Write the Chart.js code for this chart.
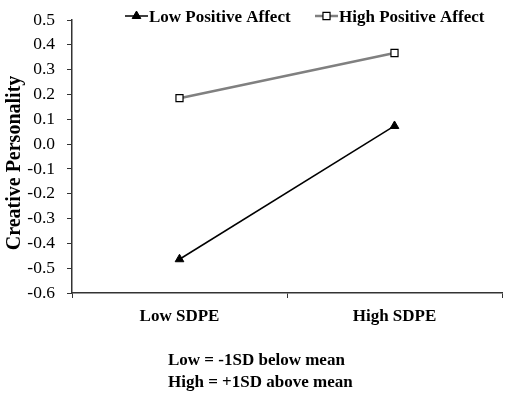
<!DOCTYPE html>
<html>
<head>
<meta charset="utf-8">
<script src="https://cdn.jsdelivr.net/npm/chart.js@4"></script>
<style>
  html, body { margin: 0; padding: 0; background: #fff; }
  #wrap { width: 510px; height: 395px; position: relative; }
</style>
</head>
<body>
<div id="wrap"><canvas id="chart"></canvas></div>
<script>
// data
var categories = ['Low SDPE', 'High SDPE'];
var lowPA = [-0.464, 0.073];
var highPA = [0.185, 0.367];
var seriesNames = ['Low Positive Affect', 'High Positive Affect'];
var yTicks = { min: -0.6, max: 0.5, step: 0.1 };
var yTitle = 'Creative Personality';
var noteLines = ['Low = -1SD below mean', 'High = +1SD above mean'];

var serif = "'Liberation Serif', 'Times New Roman', serif";

// legend with line + marker, y title and the note, drawn like the original
var legendNotes = {
  id: 'legendNotes',
  afterDraw: function(chart) {
    var ctx = chart.ctx;
    var items = [
      { x: 125, ds: chart.data.datasets[0] },
      { x: 315, ds: chart.data.datasets[1] }
    ];
    ctx.save();
    ctx.font = 'bold 17px ' + serif;
    ctx.textBaseline = 'alphabetic';
    items.forEach(function(it) {
      var y = 16;
      ctx.strokeStyle = it.ds.borderColor;
      ctx.lineWidth = it.ds.borderWidth;
      ctx.beginPath();
      ctx.moveTo(it.x, y);
      ctx.lineTo(it.x + 23, y);
      ctx.stroke();
      Chart.helpers.drawPoint(ctx, {
        pointStyle: it.ds.pointStyle,
        radius: it.ds.pointRadius,
        borderWidth: it.ds.pointBorderWidth
      }, it.x + 11.5, y);
      ctx.fillStyle = '#000';
      ctx.fillText(it.ds.label, it.x + 24, 22);
    });

    // y axis title
    ctx.save();
    ctx.translate(20, 163);
    ctx.rotate(-Math.PI / 2);
    ctx.textAlign = 'center';
    ctx.font = 'bold 20px ' + serif;
    ctx.fillText(yTitle, 0, 0);
    ctx.restore();

    // note below the axis
    ctx.textAlign = 'left';
    ctx.font = 'bold 17px ' + serif;
    ctx.fillText(noteLines[0], 168, 365);
    ctx.fillText(noteLines[1], 168, 387);
    ctx.restore();
  }
};

// draw point markers with proper fill/stroke for the legend
Chart.helpers.drawPoint = (function(orig) {
  return function(ctx, opts, x, y) {
    ctx.save();
    if (opts.pointStyle === 'rect') {
      ctx.fillStyle = '#fff';
      ctx.strokeStyle = '#000';
    } else {
      ctx.fillStyle = '#000';
      ctx.strokeStyle = '#000';
    }
    ctx.lineWidth = opts.borderWidth || 1;
    orig(ctx, opts, x, y);
    ctx.restore();
  };
})(Chart.helpers.drawPoint);

var ctx = document.getElementById('chart');
new Chart(ctx, {
  type: 'line',
  data: {
    labels: categories,
    datasets: [
      {
        label: seriesNames[0],
        data: lowPA,
        borderColor: '#000',
        borderWidth: 1.5,
        pointStyle: 'triangle',
        pointRadius: 5,
        pointBackgroundColor: '#000',
        pointBorderColor: '#000',
        pointBorderWidth: 1
      },
      {
        label: seriesNames[1],
        data: highPA,
        borderColor: '#808080',
        borderWidth: 2.5,
        pointStyle: 'rect',
        pointRadius: 5,
        pointBackgroundColor: '#fff',
        pointBorderColor: '#000',
        pointBorderWidth: 1.2
      }
    ]
  },
  options: {
    responsive: true,
    maintainAspectRatio: false,
    animation: false,
    layout: { padding: { top: 20, right: 8, left: 0, bottom: 0 } },
    plugins: {
      legend: { display: false },
      tooltip: { enabled: false }
    },
    scales: {
      x: {
        offset: true,
        grid: {
          offset: true,
          drawOnChartArea: false,
          drawTicks: true,
          tickLength: 5,
          color: '#333'
        },
        border: { display: true, color: '#333', width: 1.5 },
        ticks: {
          color: '#000',
          padding: 8,
          font: { family: serif, size: 17, weight: 'bold' }
        },
        afterFit: function(scale) { scale.height = 102; }
      },
      y: {
        min: yTicks.min,
        max: yTicks.max,
        grid: {
          drawOnChartArea: false,
          drawTicks: true,
          tickLength: 5,
          color: '#333'
        },
        border: { display: true, color: '#333', width: 1.5 },
        ticks: {
          stepSize: yTicks.step,
          color: '#000',
          padding: 12,
          font: { family: serif, size: 17.5 },
          callback: function(v) { return Number(v).toFixed(1); }
        },
        afterFit: function(scale) {
          scale.width = 72;
          scale.paddingTop = 10;
        }
      }
    }
  },
  plugins: [legendNotes]
});
</script>
</body>
</html>
